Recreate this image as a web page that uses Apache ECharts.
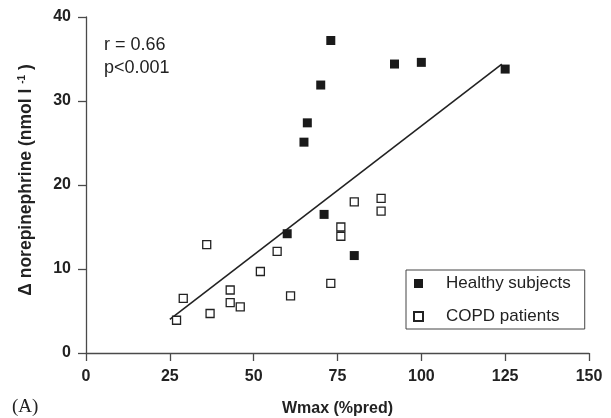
<!DOCTYPE html>
<html>
<head>
<meta charset="utf-8">
<script src="https://cdn.jsdelivr.net/npm/echarts@6/dist/echarts.min.js"></script>
<style>
  html, body { margin: 0; padding: 0; background: #fff; }
  #chart { width: 611px; height: 418px; }
</style>
</head>
<body>
<div id="chart"></div>
<script>
// Healthy subjects (filled squares)
const healthyX = [73, 70, 66, 65, 92, 100, 125, 60, 71, 80]
const healthyY = [37.2, 31.9, 27.4, 25.1, 34.4, 34.6, 33.8, 14.2, 16.5, 11.6]

// COPD patients (open squares)
const copdX = [36, 29, 27, 37, 43, 43, 46, 52, 57, 61, 73, 76, 76, 80, 88, 88]
const copdY = [12.9, 6.5, 3.9, 4.7, 7.5, 6.0, 5.5, 9.7, 12.1, 6.8, 8.3, 15.0, 13.9, 18.0, 18.4, 16.9]

// regression line end points
const trendX = [25, 124]
const trendY = [4.0, 34.4]

const xTicks = { min: 0, max: 150, interval: 25 }
const yTicks = { min: 0, max: 40, interval: 10 }

const zip = (xs, ys) => xs.map((x, i) => [x, ys[i]])

const font = '"Liberation Sans", Arial, Helvetica, sans-serif'
const axisColor = '#4a4a4a'

const chart = echarts.init(document.getElementById('chart'))

const option = {
  animation: false,
  textStyle: { fontFamily: font },
  grid: { left: 86, right: 22, top: 17, bottom: 65, outerBoundsMode: 'none' },
  xAxis: {
    type: 'value',
    min: xTicks.min,
    max: xTicks.max,
    interval: xTicks.interval,
    name: 'Wmax (%pred)',
    nameLocation: 'middle',
    nameGap: 48,
    nameTextStyle: { fontFamily: font, fontWeight: 'bold', fontSize: 16, color: '#222' },
    axisLine: { lineStyle: { color: axisColor, width: 1.3 } },
    axisTick: { length: 8, lineStyle: { color: axisColor, width: 1.3 } },
    axisLabel: { margin: 16, fontFamily: font, fontWeight: 'bold', fontSize: 16, color: '#222' },
    splitLine: { show: false }
  },
  yAxis: {
    type: 'value',
    min: yTicks.min,
    max: yTicks.max,
    interval: yTicks.interval,
    name: '{a|Δ norepinephrine (nmol l }{sup|-1}{a| )}',
    nameLocation: 'middle',
    nameGap: 51,
    nameRotate: 90,
    nameTextStyle: {
      padding: [0, 0, 0, 10],
      rich: {
        a: { fontFamily: font, fontWeight: 'bold', fontSize: 17.5, color: '#222' },
        sup: { fontFamily: font, fontWeight: 'bold', fontSize: 10, color: '#222', verticalAlign: 'top', padding: [0, 0, 8, 0] }
      }
    },
    axisLine: { show: true, lineStyle: { color: axisColor, width: 1.3 } },
    axisTick: { show: true, length: 8, lineStyle: { color: axisColor, width: 1.3 } },
    axisLabel: { margin: 15, fontFamily: font, fontWeight: 'bold', fontSize: 16, color: '#222' },
    splitLine: { show: false }
  },
  legend: {
    orient: 'vertical',
    left: 406,
    top: 270,
    width: 180,
    data: ['Healthy subjects', 'COPD patients'],
    borderColor: '#444',
    borderWidth: 1,
    padding: [5, 14, 4, 7],
    itemGap: 16,
    itemWidth: 9,
    itemHeight: 9,
    textStyle: { fontFamily: font, fontSize: 17, color: '#222', padding: [0, 0, 0, 18] }
  },
  graphic: [
    {
      type: 'text',
      left: 104,
      top: 34,
      style: { text: 'r = 0.66\np<0.001', font: '18px ' + font, fill: '#222', lineHeight: 23 }
    },
    {
      type: 'text',
      left: 12,
      top: 398,
      style: { text: '(A)', font: '19px "Liberation Serif", "Times New Roman", serif', fill: '#222' }
    }
  ],
  series: [
    {
      name: 'trend',
      type: 'line',
      data: zip(trendX, trendY),
      showSymbol: false,
      symbol: 'none',
      lineStyle: { color: '#222', width: 1.6 },
      z: 1
    },
    {
      name: 'Healthy subjects',
      type: 'scatter',
      symbol: 'rect',
      symbolSize: 9,
      data: zip(healthyX, healthyY),
      itemStyle: { color: '#1a1a1a', opacity: 1 },
      z: 3
    },
    {
      name: 'COPD patients',
      type: 'scatter',
      symbol: 'rect',
      symbolSize: 8,
      data: zip(copdX, copdY),
      itemStyle: { color: '#fff', borderColor: '#222', borderWidth: 1.3, opacity: 1 },
      z: 3
    }
  ]
}

chart.setOption(option)
</script>
</body>
</html>
